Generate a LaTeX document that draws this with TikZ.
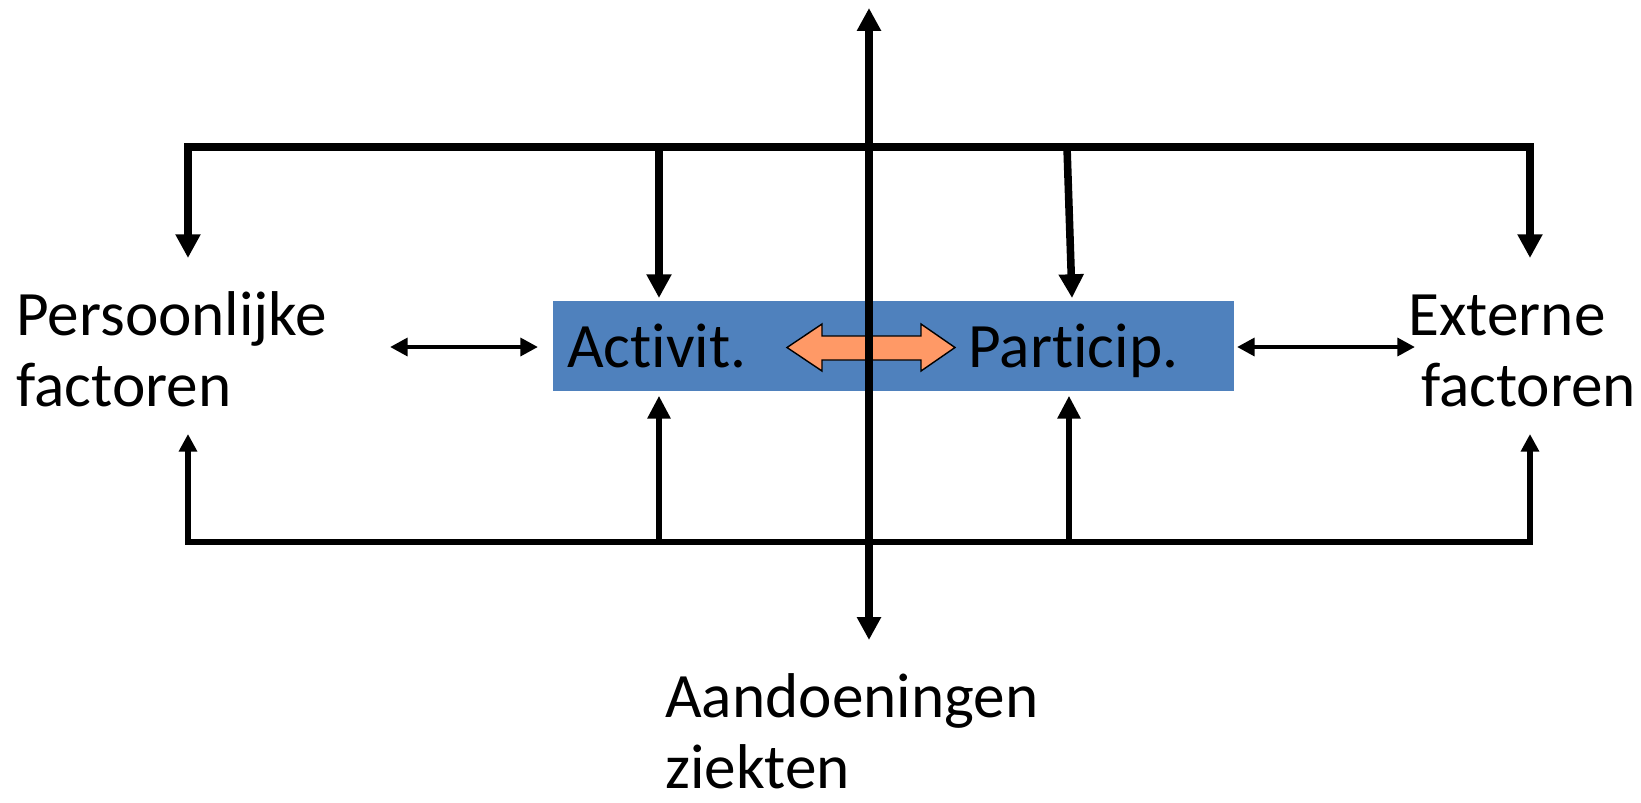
\documentclass[tikz,border=0pt]{standalone}
\usepackage{fontspec}
\setmainfont{Carlito}[Ligatures=NoCommon]
\usetikzlibrary{arrows.meta,positioning}
\definecolor{boxblue}{HTML}{4F81BD}
\definecolor{arroworange}{HTML}{FF9966}

\begin{document}
\begin{tikzpicture}[x=0.02cm, y=-0.02cm, line join=miter,
        every node/.style={font=\fontsize{36}{40}\selectfont, inner sep=0pt},
        txt/.style={align=left, anchor=base west},
        bigtip/.style={-{Triangle[width=13.5pt, length=13.5pt]}, line width=4.3pt},
        midtip/.style={-{Triangle[width=12.5pt, length=13pt]}, line width=3.8pt},
        smalltip/.style={{Triangle[width=10pt, length=10pt]}-{Triangle[width=10pt, length=10pt]}, line width=2.7pt}]
                \useasboundingbox (0,0) rectangle (1641,802);

                % Nodes
                \node[fill=boxblue, anchor=north west, minimum width=13.62cm, minimum height=1.8cm] (box) at (553,301) {};
                \node[txt] (act) at (567,367) {Activit.};
                \node[txt] (par) at (968,367) {Particip.};
                \node[txt] (pers) at (16,406) {Persoonlijke\\factoren};
                \node[txt] (ext) at (1408,406) {Externe\\\hspace*{0.2em}factoren};
                \node[txt] (aand) at (665,788) {Aandoeningen\\ziekten};

                \coordinate (pt) at (188,258);
                \coordinate (et) at (1530,258);
                \coordinate (pb) at (188,434);
                \coordinate (eb) at (1530,434);
                \coordinate (at) at (659,147);
                \coordinate (ab) at (659,542);
                \coordinate (qt) at (1067,147);
                \coordinate (qe) at (1072,298);
                \coordinate (qb) at (1069,542);
                \coordinate (pl) at (390,347);
                \coordinate (pr) at (538,347);
                \coordinate (el) at (1237,347);
                \coordinate (er) at (1415,347);
                \coordinate (up) at (869,8);
                \coordinate (down) at (869,640);

                % Orange block arrow
                \draw[fill=arroworange, line width=0.8pt] (787,347.5) -- (822,324) -- (822,336) -- (921,336) -- (921,324)
                    -- (955,347.5) -- (921,371) -- (921,360) -- (822,360) -- (822,371) -- cycle;

                % Edges
                \draw[{Triangle[width=13.5pt, length=13.5pt]}-{Triangle[width=13.5pt, length=13.5pt]}, line width=4.3pt]
                    (pt) |- (et |- at) -- (et);
                \draw[bigtip, shorten >=1.7pt] (at) -- (at |- box.north);
                \draw[bigtip] (qt) -- (qe);

                \draw[{Triangle[width=10pt, length=10pt]}-{Triangle[width=10pt, length=10pt]}, line width=2.9pt]
                    (pb) |- (eb |- ab) -- (eb);
                \draw[midtip, shorten >=2.3pt] (ab) -- (ab |- box.south);
                \draw[midtip, shorten >=2.3pt] (qb) -- (qb |- box.south);

                \draw[smalltip] (pl) -- (pr);
                \draw[smalltip] (el) -- (er);

                \draw[{Triangle[width=13pt, length=13pt]}-{Triangle[width=13pt, length=13pt]}, line width=4.5pt] (up) -- (down);
\end{tikzpicture}
\end{document}
